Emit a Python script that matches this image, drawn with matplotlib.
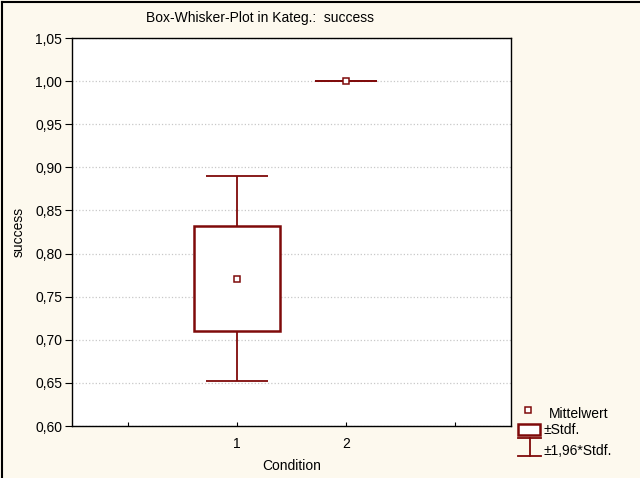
import matplotlib.pyplot as plt
from matplotlib.lines import Line2D
from matplotlib.patches import Rectangle

plt.rcParams['font.family'] = ['Liberation Sans', 'DejaVu Sans']

# data
conditions = [1, 2]
means = [0.771, 1.000]
sds = [0.0607, 0.0]
y_ticks = [0.60, 0.65, 0.70, 0.75, 0.80, 0.85, 0.90, 0.95, 1.00, 1.05]

red = '#7f0a0a'
bg = '#fdf9ee'
fs = 10

fig = plt.figure(figsize=(6.4, 4.78), dpi=100, facecolor=bg)
ax = fig.add_axes([72 / 640, 1 - 426 / 478, (511 - 72) / 640, (426 - 38) / 478])
ax.set_facecolor('white')

# whiskers (+-1.96 sd)
for x, m, s in zip(conditions, means, sds):
    ax.errorbar(x, m, yerr=1.96 * s, fmt='none', ecolor=red, elinewidth=1.3,
                capsize=22.3, capthick=1.3, zorder=3)

# boxes (+-sd)
for x, m, s in zip(conditions, means, sds):
    if s > 0:
        ax.bar(x, 2 * s, bottom=m - s, width=0.79, facecolor='white',
               edgecolor=red, linewidth=1.8, zorder=4)

# means
ax.plot(conditions, means, linestyle='none', marker='s', markersize=4.5,
        markerfacecolor='white', markeredgecolor=red, markeredgewidth=1.1,
        zorder=5)

ax.set_xlim(-0.51, 3.51)
ax.set_ylim(0.60, 1.05)
ax.set_xticks([0, 1, 2, 3])
ax.set_xticklabels(['', '1', '2', ''])
ax.set_yticks(y_ticks)
ax.set_yticklabels([f'{v:.2f}'.replace('.', ',') for v in y_ticks])
ax.tick_params(axis='y', direction='out', length=5, labelsize=fs, pad=2)
ax.tick_params(axis='x', direction='in', length=3, labelsize=fs, pad=8)
ax.grid(axis='y', color='#c8c8c8', linestyle=':', linewidth=0.9)
for sp in ax.spines.values():
    sp.set_linewidth(1.0)

ax.set_xlabel('Condition', fontsize=fs, labelpad=6)
ax.set_ylabel('success', fontsize=fs, labelpad=7)

fig.text(260 / 640, 1 - 18 / 478, 'Box-Whisker-Plot in Kateg.:  success',
         ha='center', va='center', fontsize=fs)

# figure border (left and top)
fig.add_artist(Line2D([2 / 640, 2 / 640], [0, 1 - 2 / 478], color='black', lw=1.5))
fig.add_artist(Line2D([2 / 640, 1], [1 - 2 / 478, 1 - 2 / 478], color='black', lw=1.5))

# legend
def fx(px):
    return px / 640

def fy(py):
    return 1 - py / 478

fig.add_artist(Line2D([fx(528)], [fy(410)], marker='s', markersize=4.5,
                      markerfacecolor='white', markeredgecolor=red,
                      markeredgewidth=1.1, linestyle='none'))
fig.text(fx(549), fy(414), 'Mittelwert', fontsize=fs, va='center')
fig.add_artist(Rectangle((fx(518), fy(435)), fx(540) - fx(518), fy(424) - fy(435),
                         facecolor='white', edgecolor=red, linewidth=1.8,
                         transform=fig.transFigure))
fig.text(fx(543), fy(430), '±Stdf.', fontsize=fs, va='center')
fig.add_artist(Line2D([fx(518), fx(541)], [fy(438), fy(438)], color=red, lw=1.3))
fig.add_artist(Line2D([fx(529.5), fx(529.5)], [fy(438), fy(456)], color=red, lw=1.3))
fig.add_artist(Line2D([fx(518), fx(541)], [fy(456), fy(456)], color=red, lw=1.3))
fig.text(fx(543), fy(451), '±1,96*Stdf.', fontsize=fs, va='center')

fig.savefig('out.png', dpi=100, facecolor=bg)
